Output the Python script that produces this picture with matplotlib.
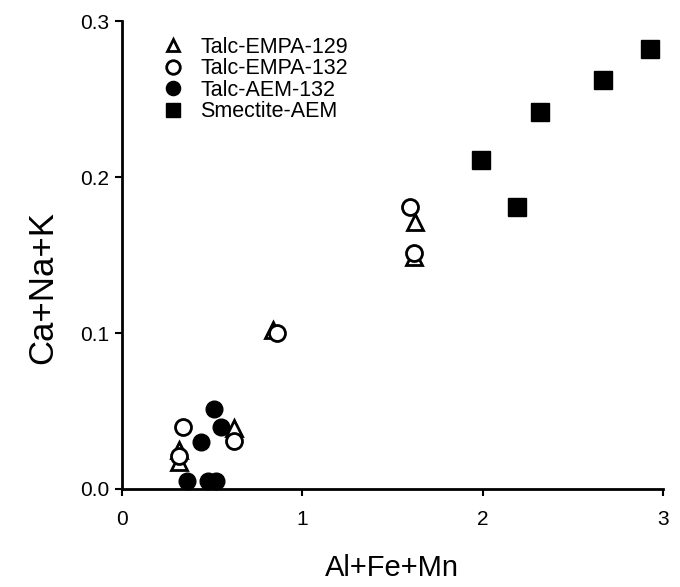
import matplotlib.pyplot as plt

plt.rcParams['font.family'] = ['Liberation Sans', 'DejaVu Sans']

# Talc-EMPA-129 (open triangles)
tri_x = [0.32, 0.32, 0.62, 0.84, 1.625, 1.62]
tri_y = [0.025, 0.017, 0.039, 0.102, 0.171, 0.149]
# Talc-EMPA-132 (open circles)
oc_x = [0.34, 0.32, 0.62, 0.86, 1.60, 1.62]
oc_y = [0.040, 0.021, 0.031, 0.100, 0.181, 0.151]
# Talc-AEM-132 (filled circles)
fc_x = [0.36, 0.48, 0.52, 0.51, 0.55, 0.44]
fc_y = [0.005, 0.005, 0.005, 0.051, 0.040, 0.030]
# Smectite-AEM (filled squares)
sq_x = [1.99, 2.19, 2.32, 2.67, 2.93]
sq_y = [0.211, 0.181, 0.242, 0.262, 0.282]

fig = plt.figure(figsize=(6.8, 5.87), dpi=100)
ax = fig.add_axes([0.179, 0.167, 0.796, 0.797])

ax.plot(tri_x, tri_y, '^', ms=11, mfc='white', mec='black', mew=2, ls='none',
        label='Talc-EMPA-129', clip_on=False, zorder=3)
ax.plot(oc_x, oc_y, 'o', ms=11.5, mfc='white', mec='black', mew=2, ls='none',
        label='Talc-EMPA-132', clip_on=False, zorder=4)
ax.plot(fc_x, fc_y, 'o', ms=12, mfc='black', mec='black', ls='none',
        label='Talc-AEM-132', clip_on=False, zorder=5)
ax.plot(sq_x, sq_y, 's', ms=12.5, mfc='black', mec='black', ls='none',
        label='Smectite-AEM', clip_on=False, zorder=5)

ax.set_xlim(0, 3)
ax.set_ylim(0, 0.3)
ax.set_xticks([0, 1, 2, 3])
ax.set_yticks([0.0, 0.1, 0.2, 0.3])
ax.set_yticklabels(['0.0', '0.1', '0.2', '0.3'])
ax.spines['top'].set_visible(False)
ax.spines['right'].set_visible(False)
ax.spines['left'].set_linewidth(2)
ax.spines['bottom'].set_linewidth(2)
ax.tick_params(direction='out', length=5, width=1.5, labelsize=15)
ax.tick_params(axis='x', pad=10)
ax.tick_params(axis='y', pad=4)

ax.set_xlabel('Al+Fe+Mn', fontsize=21, labelpad=18)
ax.set_ylabel('Ca+Na+K', fontsize=25)
ax.yaxis.set_label_coords(-0.115, 0.43)

ax.legend(loc='upper left', bbox_to_anchor=(0.03, 1.008), frameon=False,
          fontsize=15.5, handletextpad=0.5, labelspacing=0.02, markerscale=0.85,
          handlelength=1.5)

fig.savefig('out.png', dpi=100)
